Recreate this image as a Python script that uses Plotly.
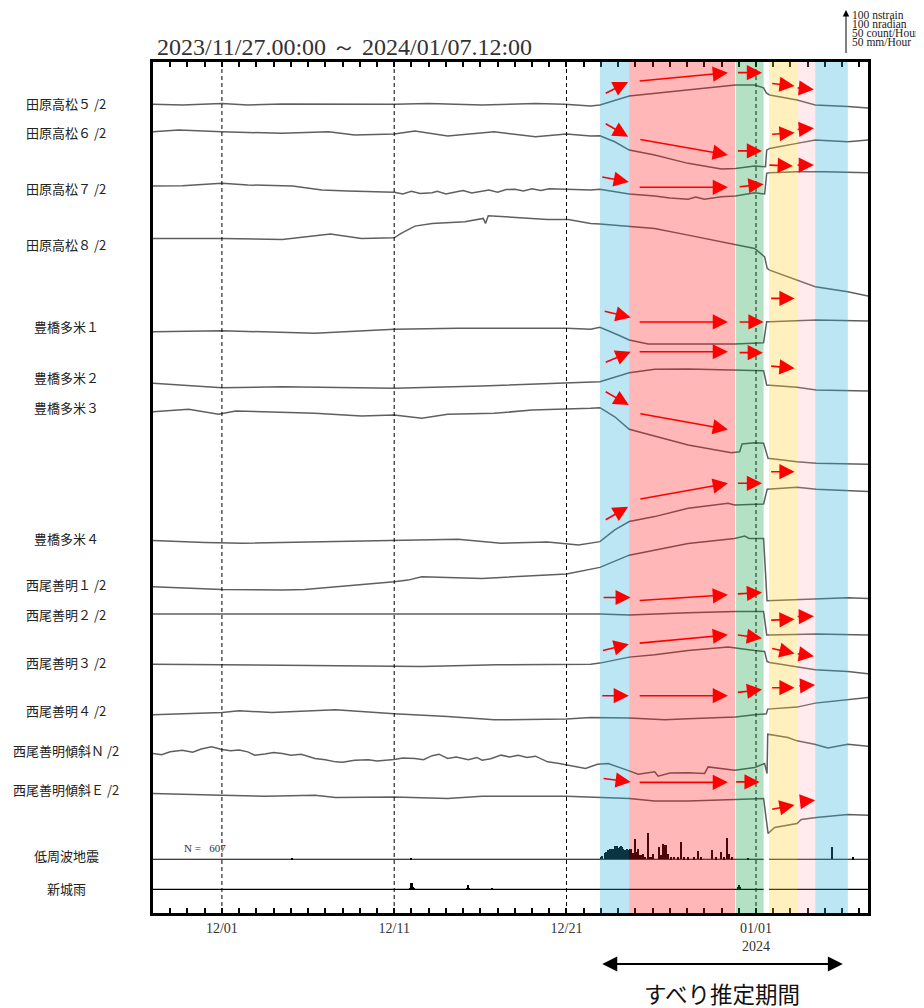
import pandas as pd
import plotly.graph_objects as go

# ---------------- time frame ----------------
START = pd.Timestamp("2023-11-27 00:00")
END = pd.Timestamp("2024-01-07 12:00")

# ---------------- data (days since 2023-11-27 00:00, nstrain / nradian deviations) ----------------
T_TAHARA5 = [0, 1.7, 4.0, 5.5, 7.5, 9.4, 12.0, 14.0, 16.0, 19.1, 22.2, 23.9, 25.4, 25.94, 27.64, 29.12,
             31.06, 32.99, 33.8, 34.92, 35.44, 35.6, 35.79, 37.38, 38.44, 40.33, 41.5]
V_TAHARA5 = [0, -1.6, 1.4, -1.6, 0.5, 0, -1, 0, 1.4, -1.6, 1.4, 0, -3.8, -1.6, 18.7, 24.8,
             32.2, 41.2, 43.4, 43.4, 36.7, 25.4, 20.9, 9.7, -1.6, -5.4, -8.3]

T_TAHARA6 = [0, 1.49, 4.0, 7.5, 10.2, 11.7, 14.0, 15.2, 17.1, 19.8, 22.2, 24.0, 25.4, 25.94, 26.8, 27.64,
             29.12, 31.06, 32.99, 33.8, 34.92, 35.55, 35.62, 35.79, 37.38, 38.44, 40.33, 41.5]
V_TAHARA6 = [0, 3.8, 0, -3.6, 0, -7.4, -5.2, 1.6, -9.7, 0, -11.3, -5.2, -9.7, -9, -22.5, -41.2,
             -52.4, -71.1, -83.9, -82.4, -77.2, -78.8, -41.2, -37.4, -26.1, -18.7, -22.5, -18.7]

T_TAHARA7 = [0, 1.7, 4.0, 5.5, 8.1, 9.8, 11.3, 14.0, 14.5, 15.0, 15.5, 16.2, 16.5, 17.0, 17.7, 18.0,
             18.5, 19.1, 19.5, 20.0, 20.5, 21.0, 21.5, 22.0, 22.5, 23.0, 24.0, 25.4, 25.94, 27.64,
             29.12, 30.0, 31.06, 31.5, 32.0, 32.99, 33.8, 34.92, 35.5, 35.62, 35.79, 37.38, 39.0, 41.5]
V_TAHARA7 = [0, 0.7, 6.1, 2.3, 0, -9, -11.3, -14.2, -18, -12, -17, -15.1, -12, -18, -12.4, -10,
             -16, -11.3, -9, -14, -8, -7.4, -11, -6, -10, -6, -7.4, -9, -7.4, -18,
             -22.5, -27, -29.9, -24.8, -30, -24, -22.5, -15.1, -18, 28.6, 29.9, 32.2, 32.2, 29.9]

T_TAHARA8 = [0, 4.0, 7.5, 10.3, 12.1, 14.0, 14.4, 15.2, 16.2, 18.1, 19.17, 19.3, 19.46, 21.0, 22.9,
             24.1, 25.4, 25.94, 27.64, 29.12, 31.06, 32.99, 33.8, 34.92, 35.5, 35.65, 35.79, 37.38,
             38.44, 40.33, 41.5]
V_TAHARA8 = [0, 0, -2.3, 9.7, 0, 1.4, 11.3, 27.7, 33.8, 37.4, 45, 33.8, 50.9, 47.3, 42.8,
             42.8, 33.8, 32.2, 27.7, 22.5, 7.4, -7.7, -12.8, -22.5, -41.4, -67.5, -71.3, -93.8,
             -108.9, -120.2, -129.8]

T_TOYO1 = [0, 4.0, 9.4, 14.0, 17.7, 21.0, 24.0, 25.4, 25.94, 27.0, 27.64, 28.74, 31.06, 33.8, 35.44,
           35.62, 35.79, 38.5, 41.5]
V_TOYO1 = [0, 2.3, -3.6, 5.4, 7.7, 7.7, 7.7, 5.4, 9.9, -7.4, -18.7, -27.7, -27.7, -27.7, -24.8,
           22.5, 22.5, 26.3, 24.1]

T_TOYO2 = [0, 4.0, 7.5, 14.0, 19.1, 22.9, 25.4, 25.94, 27.64, 29.12, 31.06, 33.8, 35.44, 35.62,
           37.38, 38.5, 41.5]
V_TOYO2 = [0, -9.9, -7.7, -11.3, -6.1, -1.6, 1.4, 3.6, 23.9, 31.5, 32.2, 29.9, 28.4, -3.8,
           -9, -15.1, -17.3]

T_TOYO3 = [0, 2.07, 3.8, 4.8, 9.4, 12.1, 14.0, 15.6, 17.1, 19.8, 22.0, 24.1, 25.4, 25.94, 26.8,
           27.64, 29.12, 31.06, 33.57, 34.05, 34.19, 34.92, 35.44, 35.7, 37.38, 38.5, 41.5]
V_TOYO3 = [0, 5.4, -5.9, 1.6, -3.6, -9.7, -7.4, -14.9, -5.9, -3.6, 3.8, 5.4, 7.7, 9, -11.3,
           -39.6, -54.7, -74.9, -92.3, -90, -72.7, -69.8, -71.1, -104.9, -112.5, -116.1, -118.4]

T_TOYO4 = [0, 3.0, 5.2, 9.4, 14.0, 17.7, 20.2, 22.9, 24.7, 25.4, 25.94, 26.8, 27.64, 29.12, 31.06,
           33.38, 33.76, 35.44, 35.65, 37.38, 38.5, 41.5]
V_TOYO4 = [0, -4.5, -5.9, -2.3, 0, 3.2, -5.9, -2.9, -9.7, -5.9, -2.3, 24.1, 42.8, 54, 72.9,
           84.2, 80.3, 82.6, 115.7, 120.2, 115.7, 110.3]

T_NISHIO1 = [0, 4.0, 7.5, 8.8, 14.0, 14.8, 15.6, 19.1, 24.0, 24.9, 25.94, 27.64, 29.12, 31.06,
             33.76, 34.34, 34.6, 35.44, 35.64, 38.5, 40.33, 41.5]
V_NISHIO1 = [0, -5.9, -7.4, -5.9, 11.3, 15.1, 22.5, 18.9, 28.6, 36, 43.7, 71.3, 82.6, 97.7,
             108.9, 114.1, 108.9, 108.9, -31.5, -28.4, -24.8, -26.1]

T_NISHIO2 = [0, 10.0, 20.0, 25.94, 27.64, 31.06, 33.8, 35.44, 35.62, 35.79, 38.5, 41.5]
V_NISHIO2 = [0, 0, 0, 0, -2.3, 2.9, 5.2, 5.2, -47.3, -47.3, -45, -47.3]

T_NISHIO3 = [0, 4.0, 15.6, 20.0, 25.4, 25.94, 27.64, 29.12, 31.06, 33.38, 33.8, 34.92, 35.5, 35.64,
             35.79, 37.38, 38.44, 40.33, 41.5]
V_NISHIO3 = [0, -1.6, -5.4, -1.6, 0, 2.3, 15.8, 20.9, 30.6, 38.3, 36, 30.6, 28.4, 5.9,
             3.6, -5.4, -12.8, -16.7, -21.8]

T_NISHIO4 = [0, 4.0, 5.0, 6.9, 10.6, 14.0, 17.1, 19.8, 24.0, 25.4, 27.64, 29.7, 31.06, 33.8, 34.92,
             35.6, 35.68, 37.38, 38.44, 40.33, 41.5]
V_NISHIO4 = [0, 5.2, 9, 5.2, 11.3, 2.3, -3.8, -11.3, -9.7, -6.1, -7.4, -11.3, -9, -5.2, 0,
             2.3, 12.8, 17.3, 26.3, 33.8, 38.9]

T_TILT_N = [0, 0.5, 1.0, 1.7, 2.3, 2.8, 3.4, 4.0, 4.5, 5.0, 5.5, 5.9, 6.5, 7.0, 7.5, 8.0, 8.6, 9.4,
            10.0, 10.6, 11.0, 11.7, 12.5, 13.0, 14.0, 14.5, 15.2, 15.7, 16.2, 16.6, 17.1, 17.6,
            18.3, 18.8, 19.1, 19.6, 20.2, 20.7, 21.2, 21.7, 22.2, 22.9, 23.5, 24.1, 24.6, 25.1,
            25.8, 26.42, 27.64, 28.16, 29.12, 29.32, 30.0, 31.06, 32.02, 32.22, 33.76, 34.92,
            35.5, 35.64, 35.68, 36.08, 36.85, 37.38, 38.4, 39.17, 40.33, 41.5]
V_TILT_N = [0, -3, 4, 7.4, 3, 10, 14.9, 9, 6, 8, 3.6, -3.8, -1, 2, 0, -4, -1.6, -11.3,
            -14, -18.9, -20, -15.1, -14, -17, -13.5, -10, -11.3, -14, -5, -1.6, -11.3, -8,
            -14, -9, -15.1, -12, -3.8, -8, -4, -9, -6.1, -18.9, -22, -26.3, -29, -33.8,
            -24.1, -22.5, -39.2, -46.6, -41.4, -51, -44, -43.4, -45, -30.2, -37.6, -31.5,
            -22.5, -45, 43.4, 41.2, 36, 28.4, 20.9, 12.6, 20.9, 16.4]

T_TILT_E = [0, 1.7, 4.0, 6.5, 9.4, 10.6, 14.0, 17.1, 19.1, 24.0, 25.26, 25.8, 27.64, 29.12, 31.06,
            33.8, 35.44, 35.7, 36.08, 37.38, 37.63, 38.5, 40.33, 41.5]
V_TILT_E = [0, -2.3, -3.8, -6.1, -3.8, -9, -7.7, -11.3, -6.1, -6.1, -7.7, -9, -11.3, -16.7, -16.7,
            -13.5, -11.3, -90, -76.5, -67.5, -58.5, -54, -47.3, -48.8]

# low-frequency earthquakes (count / hour)
LFE_T = [8.06, 14.99, 26.03, 26.1, 26.23, 26.3, 26.42, 26.47, 26.52, 26.58, 26.65, 26.72, 26.81,
         26.88, 26.96, 27.03, 27.1, 27.14, 27.19, 27.24, 27.29, 27.35, 27.42, 27.48, 27.54, 27.6,
         27.73, 27.85, 27.97, 28.06, 28.16, 28.31, 28.45, 28.58, 28.74, 28.89, 29.03, 29.36, 29.47,
         29.61, 29.76, 29.9, 30.09, 30.28, 30.48, 30.67, 30.86, 31.06, 31.44, 31.64, 31.83, 32.45,
         32.7, 32.99, 33.18, 33.34, 33.47, 33.61, 34.54, 39.42, 40.62]
LFE_N = [1, 1, 2.6, 4, 7.5, 8, 10, 9, 12, 11, 9, 12, 15,
         14, 15, 13, 14, 12, 15, 14, 12, 10, 10, 9, 11, 10,
         11, 7, 23, 8, 12, 4.5, 6, 3, 30, 3, 6, 14, 4.5,
         17, 16, 6, 2, 2.6, 2, 19.5, 2, 2, 2, 9, 2, 10,
         2, 8, 2, 24, 6, 2, 1, 14, 2.2]

# rainfall at Shinshiro (mm / hour)
RAIN_T = [14.92, 14.97, 15.02, 15.07, 15.12, 15.17, 18.25, 18.3, 18.35, 19.7, 34.0, 34.05, 34.1]
RAIN_MM = [1.5, 4, 7.5, 6, 3, 1, 2, 4.5, 2, 1, 3, 5.5, 3]

LABELS = ["田原高松５ /2", "田原高松６ /2", "田原高松７ /2", "田原高松８ /2",
          "豊橋多米１", "豊橋多米２", "豊橋多米３", "豊橋多米４",
          "西尾善明１ /2", "西尾善明２ /2", "西尾善明３ /2", "西尾善明４ /2",
          "西尾善明傾斜Ｎ /2", "西尾善明傾斜Ｅ /2"]
SERIES_T = [T_TAHARA5, T_TAHARA6, T_TAHARA7, T_TAHARA8, T_TOYO1, T_TOYO2, T_TOYO3, T_TOYO4,
            T_NISHIO1, T_NISHIO2, T_NISHIO3, T_NISHIO4, T_TILT_N, T_TILT_E]
SERIES_V = [V_TAHARA5, V_TAHARA6, V_TAHARA7, V_TAHARA8, V_TOYO1, V_TOYO2, V_TOYO3, V_TOYO4,
            V_NISHIO1, V_NISHIO2, V_NISHIO3, V_NISHIO4, V_TILT_N, V_TILT_E]

# ---------------- layout helpers (stacking, scale) ----------------
OFFSETS = [1820, 1758, 1636, 1518, 1308, 1192, 1128, 838, 734, 673, 560, 446, 359, 269]
LFE_BASE = 121
RAIN_BASE = 53
Y_TOP = 1915
SCALE_LEN = 100          # 100 nstrain scale bar
COUNT_SCALE = 100 / 50   # 50 count/hour == 100 nstrain on the scale bar
RAIN_SCALE = 100 / 50    # 50 mm/hour == 100 nstrain
LABEL_Y_PX = [104, 132, 189, 244, 326, 377, 407, 538, 584, 614, 662, 710, 750, 789]
OTHER_LABELS = [("低周波地震", 855), ("新城雨", 888)]

# plot-area geometry (page pixels); the page body adds an 8px margin
BODY = 8
PLOT_L, PLOT_R, PLOT_T, PLOT_B = 153, 868, 62, 913
PLOT_W, PLOT_H = PLOT_R - PLOT_L, PLOT_B - PLOT_T

# shaded periods (days): start, end, rgba overlay
REGIONS = [(25.94, 27.64, "rgba(38,172,222,0.30)"),
           (27.64, 33.78, "rgba(255,15,15,0.30)"),
           (33.84, 35.44, "rgba(5,155,60,0.30)"),
           (35.75, 37.38, "rgba(255,205,38,0.30)"),
           (37.38, 38.44, "rgba(255,150,170,0.20)"),
           (38.44, 40.33, "rgba(38,172,222,0.30)")]
DASHED_DAYS = [4, 14, 24, 35]

# red arrows: (tail day, tail value, head day, head value)
RED_ARROWS = [
    (26.19, 1843, 27.58, 1870), (28.16, 1872, 33.37, 1891), (33.86, 1891, 35.35, 1891),
    (35.85, 1867, 37.24, 1861), (37.33, 1857, 38.36, 1853),
    (26.19, 1778, 27.58, 1747), (28.2, 1741, 33.37, 1706), (33.86, 1715, 35.35, 1715),
    (35.85, 1752, 37.24, 1756), (37.33, 1763, 38.36, 1766),
    (25.99, 1657, 27.62, 1645), (28.16, 1633, 33.37, 1633), (33.96, 1634, 35.44, 1640),
    (35.69, 1683, 37.14, 1681), (37.33, 1683, 38.36, 1683),
    (35.79, 1383, 37.24, 1383),
    (26.13, 1355, 27.73, 1340), (28.16, 1330, 33.37, 1330), (33.96, 1330, 35.44, 1330),
    (26.19, 1238, 27.73, 1263), (28.16, 1263, 33.37, 1263), (33.96, 1261, 35.4, 1261),
    (35.79, 1231, 37.24, 1226),
    (26.19, 1175, 27.62, 1143), (28.2, 1124, 33.37, 1088), (35.79, 993, 37.24, 993),
    (26.19, 883, 27.58, 914), (28.2, 931, 33.37, 967), (33.86, 967, 35.35, 967),
    (26.07, 710, 27.73, 710), (28.16, 703, 33.37, 716), (33.86, 718, 35.35, 721),
    (35.79, 659, 37.24, 661), (37.33, 667, 38.36, 668),
    (26.03, 590, 27.62, 605), (28.16, 607, 33.37, 626), (33.86, 626, 35.35, 618),
    (35.85, 596, 37.24, 584), (37.33, 584, 38.36, 578),
    (25.99, 489, 27.62, 489), (28.16, 489, 33.37, 489), (33.86, 496, 35.35, 503),
    (35.85, 507, 37.24, 507), (37.43, 511, 38.43, 513),
    (26.07, 303, 27.73, 295), (28.16, 294, 33.37, 294), (33.76, 295, 35.21, 295),
    (35.85, 233, 37.24, 243), (37.47, 250, 38.43, 254),
]
SLIP_PERIOD = (25.99, 40.04)


def to_time(days):
    return [(START + pd.Timedelta(days=float(d))).strftime("%Y-%m-%d %H:%M:%S") for d in days]


def px_to_paper_y(py):
    return (PLOT_B - py) / PLOT_H


def px_to_paper_x(px):
    return (px - PLOT_L) / PLOT_W


fig = go.Figure()

LINE_COLOR = "#5f5f5f"
for t, v, off in zip(SERIES_T, SERIES_V, OFFSETS):
    fig.add_trace(go.Scatter(x=to_time(t), y=[off + val for val in v], mode="lines",
                             line=dict(color=LINE_COLOR, width=1.5), hoverinfo="skip",
                             showlegend=False))

# baselines of the histogram panels (with the data gap on 01/01)
for base in (LFE_BASE, RAIN_BASE):
    fig.add_trace(go.Scatter(x=to_time([0, 35.44]) + [None] + to_time([35.75, 41.5]),
                             y=[base, base, None, base, base], mode="lines",
                             line=dict(color="black", width=1.2), hoverinfo="skip",
                             showlegend=False, connectgaps=False))

BAR_W = 2.2 * 3600 * 1000
fig.add_trace(go.Bar(x=to_time(LFE_T), y=[n * COUNT_SCALE for n in LFE_N], base=LFE_BASE,
                     width=BAR_W, marker=dict(color="black", line=dict(width=0)),
                     hoverinfo="skip", showlegend=False))
fig.add_trace(go.Bar(x=to_time(RAIN_T), y=[r * RAIN_SCALE for r in RAIN_MM], base=RAIN_BASE,
                     width=BAR_W, marker=dict(color="black", line=dict(width=0)),
                     hoverinfo="skip", showlegend=False))

shapes = []
for d in DASHED_DAYS:
    t = to_time([d])[0]
    shapes.append(dict(type="line", xref="x", yref="paper", x0=t, x1=t, y0=0, y1=1,
                       line=dict(color="black", width=1, dash="4px,3px"), layer="above"))
for a, b, col in REGIONS:
    ta, tb = to_time([a, b])
    shapes.append(dict(type="rect", xref="x", yref="paper", x0=ta, x1=tb, y0=0, y1=1,
                       fillcolor=col, line=dict(width=0), layer="above"))

annotations = []
for (tt, vt, th, vh) in RED_ARROWS:
    t_tail, t_head = to_time([tt, th])
    annotations.append(dict(x=t_head, y=vh, ax=t_tail, ay=vt, xref="x", yref="y",
                            axref="x", ayref="y", text="", showarrow=True,
                            arrowhead=2, arrowsize=1.9, arrowwidth=1.6, arrowcolor="#ff0000"))

LABEL_FONT = dict(family="Noto Sans CJK JP", size=13, color="#222222")
for lab, py in list(zip(LABELS, LABEL_Y_PX)) + OTHER_LABELS:
    annotations.append(dict(x=px_to_paper_x(66), y=px_to_paper_y(py), xref="paper", yref="paper",
                            text=lab, showarrow=False, xanchor="center", yanchor="middle",
                            font=LABEL_FONT))

# title
annotations.append(dict(x=px_to_paper_x(155), y=px_to_paper_y(47), xref="paper", yref="paper",
                        text="2023/11/27.00:00 ～ 2024/01/07.12:00", showarrow=False,
                        xanchor="left", yanchor="middle",
                        font=dict(family="Liberation Serif", size=24, color="#333333")))
# N = 607
annotations.append(dict(x=px_to_paper_x(182), y=px_to_paper_y(848), xref="paper", yref="paper",
                        text="N =\u00a0\u00a0\u00a0607", showarrow=False, xanchor="left",
                        yanchor="middle",
                        font=dict(family="Liberation Serif", size=11, color="#333333")))
# scale bar: 100 nstrain expressed through the y-axis scale
scale_px = SCALE_LEN / Y_TOP * PLOT_H
annotations.append(dict(x=px_to_paper_x(846), y=px_to_paper_y(10), ax=0, ay=scale_px,
                        xref="paper", yref="paper", axref="pixel", ayref="pixel", text="",
                        showarrow=True, arrowhead=2, arrowsize=1.3, arrowwidth=1,
                        arrowcolor="black"))
for txt, py in [("100 nstrain", 15), ("100 nradian", 24), ("50 count/Hour", 33),
                ("50 mm/Hour", 42)]:
    annotations.append(dict(x=px_to_paper_x(850), y=px_to_paper_y(py), xref="paper", yref="paper",
                            text=txt, showarrow=False, xanchor="left", yanchor="middle",
                            font=dict(family="Liberation Serif", size=11.5, color="#222222")))
# slip period double arrow
s0, s1 = to_time(list(SLIP_PERIOD))
annotations.append(dict(x=s1, y=px_to_paper_y(964), ax=s0, ay=0, xref="x", yref="paper",
                        axref="x", ayref="pixel", text="", showarrow=True,
                        arrowside="end+start", arrowhead=2, arrowsize=1.5, arrowwidth=2,
                        arrowcolor="black"))
annotations.append(dict(x=to_time([(SLIP_PERIOD[0] + SLIP_PERIOD[1]) / 2])[0],
                        y=px_to_paper_y(993), xref="x", yref="paper", text="すべり推定期間",
                        showarrow=False, xanchor="center", yanchor="middle",
                        font=dict(family="Noto Sans CJK JP", size=22.5, color="#111111")))

# axis ticks: one per day, labels at selected dates
tick_days = pd.date_range("2023-11-27", "2024-01-07", freq="D")
tick_label_map = {"2023-12-01": "12/01", "2023-12-11": "12/11", "2023-12-21": "12/21",
                  "2024-01-01": "01/01<br>2024"}
tickvals = [d.strftime("%Y-%m-%d") for d in tick_days]
ticktext = [tick_label_map.get(v, "") for v in tickvals]

FIG_W, FIG_H = 924 - BODY, 1008 - BODY
fig.update_layout(
    width=FIG_W, height=FIG_H,
    margin=dict(l=PLOT_L - BODY, r=FIG_W - (PLOT_R - BODY), t=PLOT_T - BODY,
                b=FIG_H - (PLOT_B - BODY), pad=0),
    paper_bgcolor="white", plot_bgcolor="white",
    barmode="overlay", bargap=0,
    shapes=shapes, annotations=annotations,
    showlegend=False,
    xaxis=dict(type="date", range=[START.strftime("%Y-%m-%d %H:%M:%S"),
                                   END.strftime("%Y-%m-%d %H:%M:%S")],
               tickmode="array", tickvals=tickvals, ticktext=ticktext,
               ticks="inside", ticklen=5, tickwidth=1.5, tickcolor="black",
               showline=True, linewidth=3, linecolor="black", mirror="ticks",
               showgrid=False, zeroline=False,
               tickfont=dict(family="Liberation Serif", size=14, color="#333333")),
    yaxis=dict(range=[0, Y_TOP], showline=True, linewidth=3, linecolor="black", mirror=True,
               showticklabels=False, ticks="", showgrid=False, zeroline=False),
)

fig.write_html("out.html")
